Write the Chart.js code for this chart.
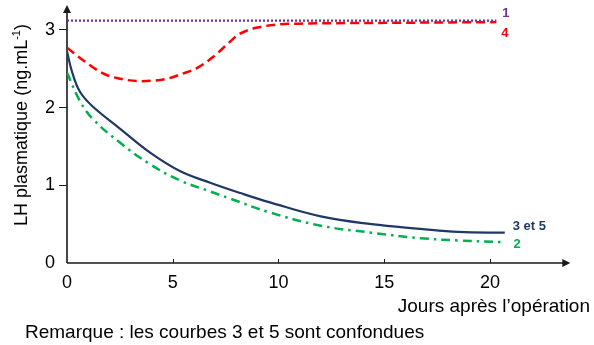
<!DOCTYPE html>
<html lang="fr">
<head>
<meta charset="UTF-8">
<title>LH plasmatique</title>
<style>
  body { margin: 0; background: #fff; }
  .chart-box { width: 594px; height: 345px; position: relative; }
</style>
</head>
<body>
<div class="chart-box"><canvas id="lhChart"></canvas></div>
<script src="https://cdn.jsdelivr.net/npm/chart.js"></script>
<script>
// courbe 1
const days1 = [0, 20.3];
const lh1 = [3.12, 3.12];
// courbe 4
const days4 = [0, 0.76, 1.7, 2.36, 3.5, 4.7, 5.5, 6.16, 6.9, 7.6, 8.05, 8.5, 9, 10, 11, 15, 20.3];
const lh4 = [2.77, 2.61, 2.44, 2.38, 2.34, 2.37, 2.44, 2.51, 2.65, 2.82, 2.93, 2.99, 3.03, 3.07, 3.08, 3.09, 3.10];
// courbes 3 et 5 (confondues)
const days35 = [0, 0.25, 0.62, 1.23, 2.5, 3.93, 5.36, 6.8, 8.2, 9.6, 12, 14.4, 16.7, 18.5, 20.7];
const lh35 = [2.72, 2.45, 2.2, 2.01, 1.73, 1.42, 1.18, 1.03, 0.9, 0.78, 0.6, 0.5, 0.44, 0.4, 0.39];
// courbe 2
const days2 = [0, 0.62, 1.23, 2.5, 3.93, 5.36, 6.78, 7.7, 9.6, 12, 14.4, 16.7, 18.5, 20.5];
const lh2 = [2.45, 2.08, 1.85, 1.55, 1.27, 1.06, 0.92, 0.83, 0.65, 0.48, 0.39, 0.32, 0.29, 0.27];

const curveNames = ['1', '4', '3 et 5', '2'];
const xTicks = [0, 5, 10, 15, 20];
const yTicks = [0, 1, 2, 3];

const FONT = '"Liberation Sans", Arial, sans-serif';
const xAxisEnd = 23.8;

function toPoints(days, values) {
  return days.map((d, i) => ({ x: d, y: values[i] }));
}

// petits décalages du texte par rapport au dernier point de chaque courbe
const labelOffsets = [[6, -7], [5, 11], [8, -6], [13, 2]];

const axesPlugin = {
  id: 'axesPlugin',
  beforeDatasetsDraw(chart) {
    const { ctx, scales: { x, y }, chartArea } = chart;
    const x0 = x.getPixelForValue(0);
    const y0 = y.getPixelForValue(0);
    const xEnd = x.getPixelForValue(xAxisEnd);
    const yTop = chartArea.top;
    ctx.save();
    ctx.strokeStyle = '#1a1a1a';
    ctx.fillStyle = '#1a1a1a';
    ctx.lineWidth = 1.6;
    ctx.beginPath();
    ctx.moveTo(x0, y0);
    ctx.lineTo(x0, yTop + 6);
    ctx.moveTo(x0, y0);
    ctx.lineTo(xEnd - 6, y0);
    ctx.stroke();
    // flèches
    ctx.beginPath();
    ctx.moveTo(x0, yTop);
    ctx.lineTo(x0 - 4, yTop + 8);
    ctx.lineTo(x0 + 4, yTop + 8);
    ctx.closePath();
    ctx.fill();
    ctx.beginPath();
    ctx.moveTo(xEnd, y0);
    ctx.lineTo(xEnd - 8, y0 - 4);
    ctx.lineTo(xEnd - 8, y0 + 4);
    ctx.closePath();
    ctx.fill();
    // graduations de l'axe des jours
    ctx.lineWidth = 1;
    ctx.beginPath();
    xTicks.slice(1).forEach(v => {
      const px = Math.round(x.getPixelForValue(v)) + 0.5;
      ctx.moveTo(px, y0);
      ctx.lineTo(px, y0 - 4);
    });
    ctx.stroke();
    ctx.restore();
  },
  afterDraw(chart) {
    const { ctx, scales: { y } } = chart;
    ctx.save();
    // étiquettes en bout de courbe
    ctx.font = 'bold 13px ' + FONT;
    ctx.textBaseline = 'middle';
    ctx.textAlign = 'left';
    chart.data.datasets.forEach((ds, i) => {
      const meta = chart.getDatasetMeta(i);
      const last = meta.data[meta.data.length - 1];
      ctx.fillStyle = ds.borderColor;
      ctx.fillText(curveNames[i], last.x + labelOffsets[i][0], last.y + labelOffsets[i][1]);
    });

    // titre de l'axe vertical avec exposant
    const main = 'LH plasmatique (ng.mL';
    ctx.font = '18px ' + FONT;
    const wMain = ctx.measureText(main).width;
    const wClose = ctx.measureText(')').width;
    ctx.font = '11px ' + FONT;
    const wSup = ctx.measureText('-1').width;
    const total = wMain + wSup + wClose;
    const yMid = (y.top + y.bottom) / 2 - 9;
    ctx.translate(27, yMid + total / 2);
    ctx.rotate(-Math.PI / 2);
    ctx.fillStyle = '#000';
    ctx.textBaseline = 'alphabetic';
    ctx.font = '18px ' + FONT;
    ctx.fillText(main, 0, 0);
    ctx.font = '11px ' + FONT;
    ctx.fillText('-1', wMain, -7);
    ctx.font = '18px ' + FONT;
    ctx.fillText(')', wMain + wSup, 0);
    ctx.restore();

    // remarque en bas
    ctx.save();
    ctx.font = '19px ' + FONT;
    ctx.fillStyle = '#000';
    ctx.textBaseline = 'alphabetic';
    ctx.fillText('Remarque : les courbes 3 et 5 sont confondues', 25, 338);
    ctx.restore();
  }
};

new Chart(document.getElementById('lhChart'), {
  type: 'line',
  data: {
    datasets: [
      {
        label: curveNames[0],
        data: toPoints(days1, lh1),
        borderColor: '#7030a0',
        borderWidth: 2.2,
        borderDash: [2, 2]
      },
      {
        label: curveNames[1],
        data: toPoints(days4, lh4),
        borderColor: '#ff0000',
        borderWidth: 2.5,
        borderDash: [9, 5],
        cubicInterpolationMode: 'monotone'
      },
      {
        label: curveNames[2],
        data: toPoints(days35, lh35),
        borderColor: '#1f3864',
        borderWidth: 2.2,
        tension: 0.4
      },
      {
        label: curveNames[3],
        data: toPoints(days2, lh2),
        borderColor: '#00b050',
        borderWidth: 2.5,
        borderDash: [9, 5, 2.5, 5],
        tension: 0.4
      }
    ]
  },
  options: {
    responsive: true,
    maintainAspectRatio: false,
    animation: false,
    layout: { padding: { top: 5, right: 4, left: 0, bottom: 0 } },
    elements: {
      point: { radius: 0 },
      line: { fill: false }
    },
    plugins: {
      legend: { display: false },
      tooltip: { enabled: false }
    },
    scales: {
      x: {
        type: 'linear',
        min: 0,
        max: 24.73,
        afterBuildTicks: s => { s.ticks = xTicks.map(v => ({ value: v })); },
        afterFit: s => { s.height = 82; s.paddingLeft = 0; s.paddingRight = 0; },
        grid: { display: false },
        border: { display: false },
        ticks: { padding: 1, color: '#000', font: { family: FONT, size: 18 } },
        title: {
          display: true,
          text: 'Jours après l’opération',
          align: 'end',
          color: '#000',
          font: { family: FONT, size: 19 },
          padding: { top: 0, bottom: 27 }
        }
      },
      y: {
        min: 0,
        max: 3.32,
        afterBuildTicks: s => { s.ticks = yTicks.map(v => ({ value: v })); },
        afterFit: s => { s.width = 67; s.paddingTop = 0; s.paddingBottom = 0; },
        grid: {
          drawOnChartArea: false,
          drawTicks: true,
          tickLength: 8,
          color: ctx => (ctx.tick && ctx.tick.value === 0) ? 'rgba(0,0,0,0)' : '#1a1a1a'
        },
        border: { display: false },
        ticks: { padding: 4, color: '#000', font: { family: FONT, size: 18 } }
      }
    }
  },
  plugins: [axesPlugin]
});
</script>
</body>
</html>
